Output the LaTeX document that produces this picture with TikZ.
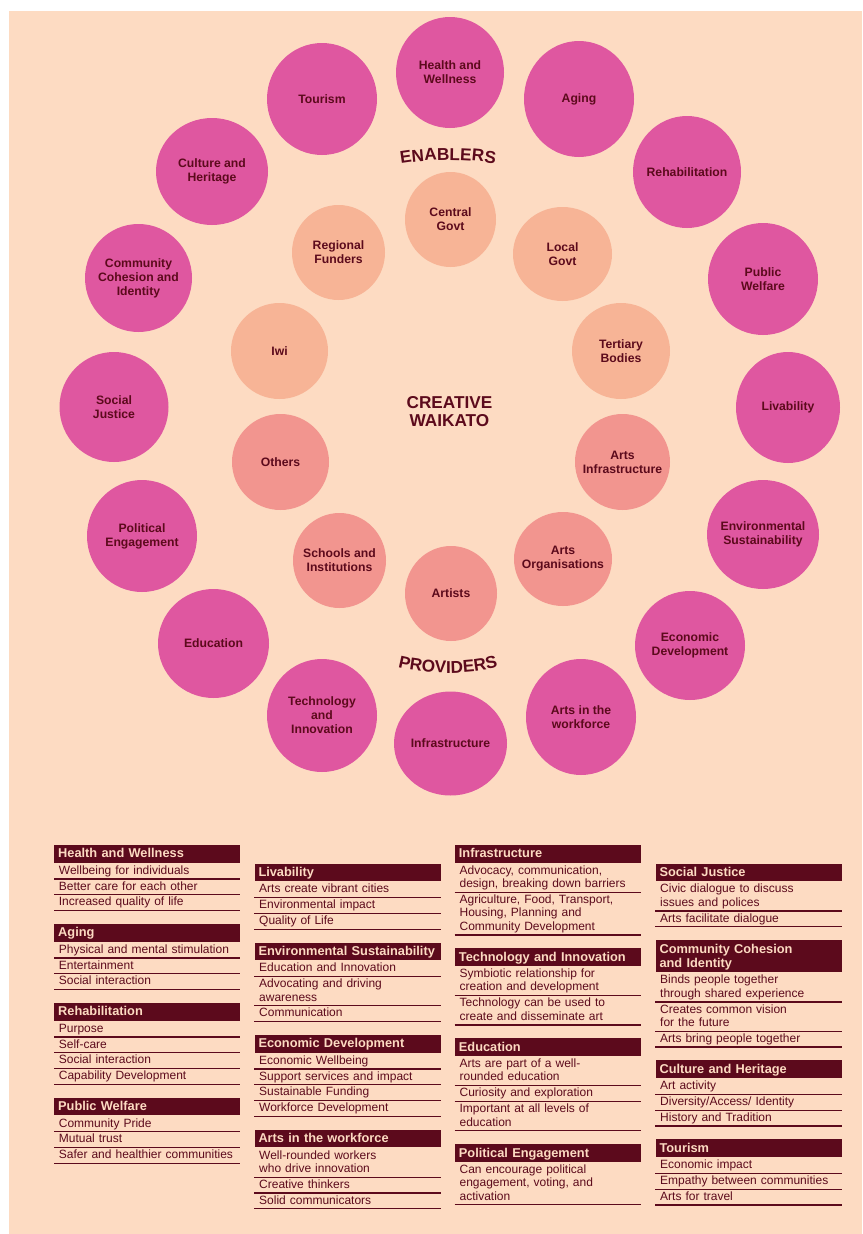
\documentclass[tikz,border=0pt]{standalone}
\usepackage{fontspec}
\setmainfont{Liberation Sans}
\usepackage{xcolor}
\usetikzlibrary{shapes.geometric,decorations.text,positioning}
\setlength{\parindent}{0pt}

\definecolor{wkpeach}{HTML}{FDDBC2}
\definecolor{wkmagenta}{HTML}{DF57A0}
\definecolor{wkenabler}{HTML}{F7B496}
\definecolor{wkprovider}{HTML}{F2958F}
\definecolor{wkmaroon}{HTML}{5C0A1C}

\newcommand{\lblfont}{\fontsize{12.2}{14}\selectfont\bfseries}
\newcommand{\hdrfont}{\fontsize{12.8}{14.5}\selectfont\bfseries}
\newcommand{\rowfont}{\fontsize{12}{13.4}\selectfont}
\newcommand{\titlefont}{\fontsize{17.2}{18.4}\selectfont\bfseries}

\tikzset{
	outer/.style={ellipse, fill=wkmagenta, inner sep=0pt},
	enabler/.style={ellipse, fill=wkenabler, inner sep=0pt},
	provider/.style={ellipse, fill=wkprovider, inner sep=0pt},
	wh/.style 2 args={minimum width=#1pt, minimum height=#2pt},
	lbl/.style={align=center, text=wkmaroon, font=\lblfont, inner sep=0pt},
	txt/.style={label={[lbl]center:#1}},
	hdr/.style={anchor=north west, fill=wkmaroon, text=wkpeach, font=\hdrfont,
		text width=178pt, inner xsep=4pt, inner ysep=0pt, align=left,
		execute at begin node={\rule{0pt}{13pt}},
		execute at end node={\rule[-4.6pt]{0pt}{4.6pt}}},
	rowline/.style={draw=wkmaroon, line width=1.2pt},
	row/.style={anchor=north west, text=wkmaroon, font=\rowfont,
		text width=176.6pt, inner xsep=4.7pt, inner ysep=0pt, align=left,
		execute at begin node={\rule{0pt}{9.5pt}},
		execute at end node={\rule[-3pt]{0pt}{3pt}},
		append after command={([yshift=-1.5pt]\tikzlastnode.south west) edge[rowline] ([yshift=-1.5pt]\tikzlastnode.south east)}},
	fromhdr/.style={at={([yshift=-1.8pt]#1.south west)}},
	fromrow/.style={at={([yshift=-2.95pt]#1.south west)}},
	newblock/.style={at={([yshift=-14.6pt]#1.south west)}},
}

\begin{document}
\begin{tikzpicture}[x=1pt,y=-1pt]
	%
	% page
	\useasboundingbox (0,0) rectangle (862,1234);
	\fill[white] (0,0) rectangle (862,1234);
	\fill[wkpeach] (8.5,11) rectangle (862,1234);
	
	% outer ring
	\node[outer, wh={108}{111}, txt={Health and\\Wellness}] (health) at (450,72.5) {};
	\node[outer, wh={110}{112}, txt={Tourism}] (tourism) at (322,99) {};
	\node[outer, wh={110}{116}, txt={Aging}] (aging) at (579,99) {};
	\node[outer, wh={112}{107}, txt={Culture and\\Heritage}] (culture) at (212,171.5) {};
	\node[outer, wh={108}{112}, txt={Rehabilitation}] (rehab) at (687,172) {};
	\node[outer, wh={107}{108}, txt={Community\\Cohesion and\\Identity}] (cohesion) at (138.5,278) {};
	\node[outer, wh={110}{112}, txt={Public\\Welfare}] (welfare) at (763,279) {};
	\node[outer, wh={109}{110}, txt={Social\\Justice}] (justice) at (114,407) {};
	\node[outer, wh={104}{111}, txt={Livability}] (livability) at (788,407.5) {};
	\node[outer, wh={110}{112}, txt={Political\\Engagement}] (political) at (142,536) {};
	\node[outer, wh={112}{109}, txt={Environmental\\Sustainability}] (environ) at (763,534.5) {};
	\node[outer, wh={111}{109}, txt={Education}] (education) at (213.5,643.5) {};
	\node[outer, wh={110}{109}, txt={Economic\\Development}] (economic) at (690,645.5) {};
	\node[outer, wh={110}{113}, txt={Technology\\and\\Innovation}] (technology) at (322,715.5) {};
	\node[outer, wh={113}{104}, txt={Infrastructure}] (infra) at (450.5,743.5) {};
	\node[outer, wh={110}{116}, txt={Arts in the\\workforce}] (workforce) at (581,717) {};
	
	% enablers
	\node[enabler, wh={91}{95}, txt={Central\\Govt}] (central) at (450.5,219.5) {};
	\node[enabler, wh={93}{95}, txt={Regional\\Funders}] (regional) at (338.5,252.5) {};
	\node[enabler, wh={99}{94}, txt={Local\\Govt}] (local) at (562.5,254) {};
	\node[enabler, wh={97}{96}, txt={Iwi}] (iwi) at (279.5,351) {};
	\node[enabler, wh={98}{96}, txt={Tertiary\\Bodies}] (tertiary) at (621,351) {};
	
	% providers
	\node[provider, wh={97}{96}, txt={Others}] (others) at (280.5,462) {};
	\node[provider, wh={95}{96}, txt={Arts\\Infrastructure}] (artsinfra) at (622.5,462) {};
	\node[provider, wh={93}{95}, txt={Schools and\\Institutions}] (schools) at (339.5,560.5) {};
	\node[provider, wh={98}{94}, txt={Arts\\Organisations}] (artsorg) at (563,559) {};
	\node[provider, wh={92}{95}, txt={Artists}] (artists) at (451,593.5) {};
	
	% titles
	\node[align=center, text=wkmaroon, font=\titlefont, inner sep=0pt] (creative) at (449.5,411.3) {CREATIVE\\WAIKATO};
	\path[decorate, decoration={text along path, text={|\titlefont|ENABLERS}, text align=center, text color=wkmaroon}]
		(388,166.5) .. controls (420,158) and (476,158) .. (508,166.5);
	\path[decorate, decoration={text along path, text={|\titlefont|PROVIDERS}, text align=center, text color=wkmaroon}]
		(388,664) .. controls (420,676) and (476,676) .. (508,664);
	
	% legend, column 1
	\node[hdr] (lhw) at (54,844.7) {Health and Wellness};
	\node[row, fromhdr=lhw] (lhw1) {Wellbeing for individuals};
	\node[row, fromrow=lhw1] (lhw2) {Better care for each other};
	\node[row, fromrow=lhw2] (lhw3) {Increased quality of life};
	\node[hdr, newblock=lhw3] (lag) {Aging};
	\node[row, fromhdr=lag] (lag1) {Physical and mental stimulation};
	\node[row, fromrow=lag1] (lag2) {Entertainment};
	\node[row, fromrow=lag2] (lag3) {Social interaction};
	\node[hdr, newblock=lag3] (lre) {Rehabilitation};
	\node[row, fromhdr=lre] (lre1) {Purpose};
	\node[row, fromrow=lre1] (lre2) {Self-care};
	\node[row, fromrow=lre2] (lre3) {Social interaction};
	\node[row, fromrow=lre3] (lre4) {Capability Development};
	\node[hdr, newblock=lre4] (lpw) {Public Welfare};
	\node[row, fromhdr=lpw] (lpw1) {Community Pride};
	\node[row, fromrow=lpw1] (lpw2) {Mutual trust};
	\node[row, fromrow=lpw2] (lpw3) {Safer and healthier communities};
	
	% legend, column 2
	\node[hdr] (lli) at (254.3,863.3) {Livability};
	\node[row, fromhdr=lli] (lli1) {Arts create vibrant cities};
	\node[row, fromrow=lli1] (lli2) {Environmental impact};
	\node[row, fromrow=lli2] (lli3) {Quality of Life};
	\node[hdr, newblock=lli3] (les) {Environmental Sustainability};
	\node[row, fromhdr=les] (les1) {Education and Innovation};
	\node[row, fromrow=les1] (les2) {Advocating and driving\\awareness};
	\node[row, fromrow=les2] (les3) {Communication};
	\node[hdr, newblock=les3] (leco) {Economic Development};
	\node[row, fromhdr=leco] (leco1) {Economic Wellbeing};
	\node[row, fromrow=leco1] (leco2) {Support services and impact};
	\node[row, fromrow=leco2] (leco3) {Sustainable Funding};
	\node[row, fromrow=leco3] (leco4) {Workforce Development};
	\node[hdr, newblock=leco4] (law) {Arts in the workforce};
	\node[row, fromhdr=law] (law1) {Well-rounded workers\\who drive innovation};
	\node[row, fromrow=law1] (law2) {Creative thinkers};
	\node[row, fromrow=law2] (law3) {Solid communicators};
	
	% legend, column 3
	\node[hdr] (lin) at (454.7,844.7) {Infrastructure};
	\node[row, fromhdr=lin] (lin1) {Advocacy, communication,\\design, breaking down barriers};
	\node[row, fromrow=lin1] (lin2) {Agriculture, Food, Transport,\\Housing, Planning and\\Community Development};
	\node[hdr, newblock=lin2] (lti) {Technology and Innovation};
	\node[row, fromhdr=lti] (lti1) {Symbiotic relationship for\\creation and development};
	\node[row, fromrow=lti1] (lti2) {Technology can be used to\\create and disseminate art};
	\node[hdr, newblock=lti2] (ledu) {Education};
	\node[row, fromhdr=ledu] (ledu1) {Arts are part of a well-\\rounded education};
	\node[row, fromrow=ledu1] (ledu2) {Curiosity and exploration};
	\node[row, fromrow=ledu2] (ledu3) {Important at all levels of\\education};
	\node[hdr, newblock=ledu3] (lpe) {Political Engagement};
	\node[row, fromhdr=lpe] (lpe1) {Can encourage political\\engagement, voting, and\\activation};
	
	% legend, column 4
	\node[hdr] (lsj) at (655.3,863.3) {Social Justice};
	\node[row, fromhdr=lsj] (lsj1) {Civic dialogue to discuss\\issues and polices};
	\node[row, fromrow=lsj1] (lsj2) {Arts facilitate dialogue};
	\node[hdr, newblock=lsj2] (lcc) {Community Cohesion\\and Identity};
	\node[row, fromhdr=lcc] (lcc1) {Binds people together\\through shared experience};
	\node[row, fromrow=lcc1] (lcc2) {Creates common vision\\for the future};
	\node[row, fromrow=lcc2] (lcc3) {Arts bring people together};
	\node[hdr, newblock=lcc3] (lch) {Culture and Heritage};
	\node[row, fromhdr=lch] (lch1) {Art activity};
	\node[row, fromrow=lch1] (lch2) {Diversity/Access/ Identity};
	\node[row, fromrow=lch2] (lch3) {History and Tradition};
	\node[hdr, newblock=lch3] (lto) {Tourism};
	\node[row, fromhdr=lto] (lto1) {Economic impact};
	\node[row, fromrow=lto1] (lto2) {Empathy between communities};
	\node[row, fromrow=lto2] (lto3) {Arts for travel};
\end{tikzpicture}
\end{document}
